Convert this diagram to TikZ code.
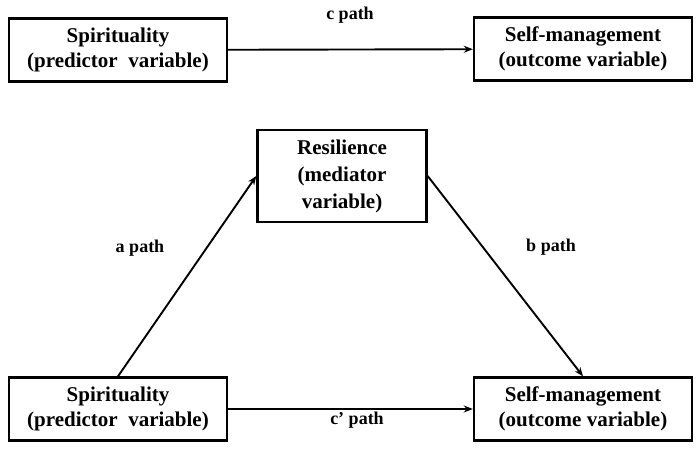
\documentclass[tikz,border=0pt]{standalone}
\usepackage{fontspec}
\setmainfont{Liberation Serif}
\usetikzlibrary{arrows.meta, positioning}

\begin{document}
\begin{tikzpicture}[x=1pt, y=-1pt,
    box/.style={draw, line width=2.4pt, align=center, font=\fontsize{21}{25}\selectfont\bfseries,
                minimum width=218pt, minimum height=63pt, inner sep=2pt},
    medbox/.style={box, font=\fontsize{21}{27}\selectfont\bfseries,
                   minimum width=169pt, minimum height=92pt},
    lbl/.style={font=\fontsize{18}{20}\selectfont\bfseries},
    arr/.style={-{Stealth[length=9pt, width=7pt]}, line width=1.9pt}]
  \useasboundingbox (0,0) rectangle (700,450);
  % total effect
  \node[box] (pred) at (118,50) {Spirituality\\(predictor\ \ variable)};
  \node[box] (outc) at (583,49) {Self-management\\(outcome variable)};
  \draw[arr] (pred) -- (outc);
  \node[lbl] (cpath) at (350,15) {c path};
  % mediation model
  \node[medbox] (med) at (342,176) {Resilience\\(mediator\\variable)};
  \node[box] (predb) at (118,409) {Spirituality\\(predictor\ \ variable)};
  \node[box] (outcb) at (583,409) {Self-management\\(outcome variable)};
  \draw[arr] (predb.north) -- (med.west);
  \draw[arr] (med.east) -- (outcb.north);
  \draw[arr] (predb) -- (outcb);
  \node[lbl] (apath) at (140,248) {a path};
  \node[lbl] (bpath) at (551,247) {b path};
  \node[lbl] (cppath) at (357,420) {c’ path};
\end{tikzpicture}
\end{document}
